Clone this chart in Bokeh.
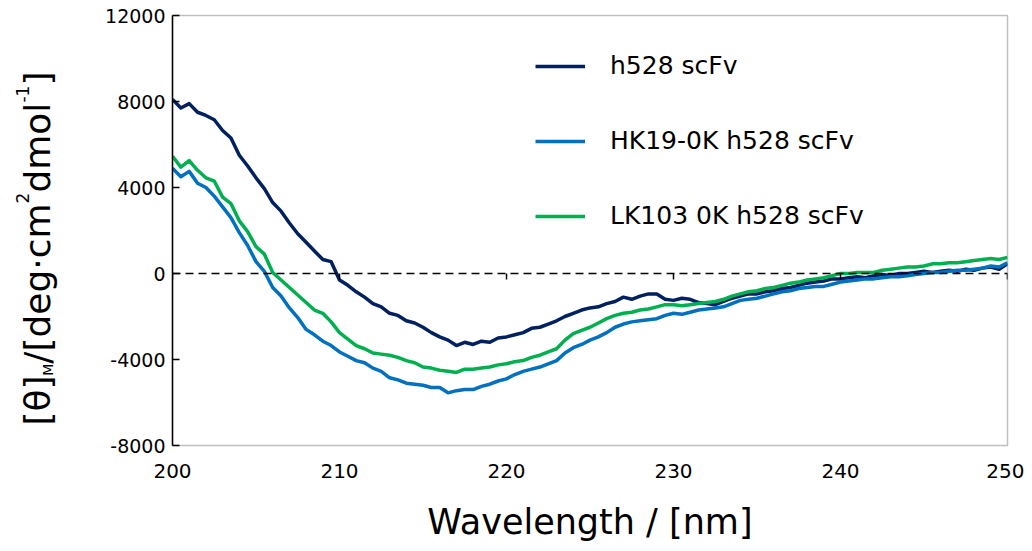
import numpy as np
from bokeh.plotting import figure
from bokeh.layouts import row
from bokeh.models import (Range1d, LinearAxis, FixedTicker, Label, Legend,
                          LegendItem, CustomJSTickFormatter)
from bokeh.embed import file_html
from bokeh.resources import INLINE

# ---------------- data ----------------
wavelength = [200 + 0.5 * i for i in range(101)]

h528 = [8100, 7700, 7900, 7500, 7350, 7150, 6650, 6300, 5500, 5000,
        4450, 3950, 3300, 2900, 2350, 1850, 1450, 1050, 650, 550,
        -300, -550, -850, -1100, -1400, -1550, -1850, -1950, -2200, -2300,
        -2500, -2750, -2950, -3100, -3350, -3200, -3300, -3150, -3200, -3000,
        -2950, -2850, -2750, -2550, -2500, -2350, -2200, -2000, -1850, -1700,
        -1600, -1550, -1400, -1300, -1100, -1200, -1050, -950, -950, -1200,
        -1250, -1150, -1200, -1350, -1400, -1450, -1300, -1150, -1050, -950,
        -950, -850, -800, -700, -650, -550, -450, -400, -350, -250,
        -250, -200, -150, -200, -100, -50, -100, 0, 0, 50,
        100, 50, 100, 150, 100, 200, 150, 250, 300, 200,
        450]

hk19 = [4900, 4500, 4750, 4200, 4000, 3600, 3100, 2600, 1900, 1300,
        550, 100, -650, -1050, -1600, -2050, -2600, -2850, -3150, -3350,
        -3650, -3850, -4050, -4150, -4400, -4550, -4850, -4950, -5100, -5150,
        -5200, -5300, -5300, -5550, -5450, -5400, -5400, -5250, -5150, -5000,
        -4900, -4700, -4550, -4450, -4350, -4200, -4050, -3700, -3450, -3300,
        -3100, -2950, -2750, -2500, -2350, -2250, -2200, -2150, -2100, -1950,
        -1850, -1900, -1800, -1700, -1650, -1600, -1550, -1400, -1250, -1200,
        -1150, -1050, -950, -850, -800, -700, -650, -600, -600, -500,
        -400, -350, -300, -250, -250, -200, -150, -150, -100, -50,
        0, 50, 50, 100, 150, 150, 200, 250, 350, 300,
        500]

lk103 = [5450, 4950, 5250, 4800, 4450, 4300, 3550, 3250, 2450, 1950,
         1250, 900, 50, -300, -650, -1000, -1350, -1700, -1850, -2250,
         -2750, -3050, -3350, -3500, -3700, -3750, -3800, -3900, -4050, -4150,
         -4350, -4400, -4500, -4550, -4600, -4450, -4450, -4400, -4350, -4250,
         -4200, -4100, -4050, -3900, -3800, -3650, -3500, -3100, -2800, -2650,
         -2500, -2300, -2100, -1950, -1850, -1800, -1700, -1650, -1550, -1450,
         -1450, -1500, -1450, -1400, -1350, -1300, -1200, -1050, -950, -850,
         -800, -700, -650, -550, -450, -400, -300, -250, -200, -100,
         0, 0, 50, 50, 50, 150, 200, 250, 300, 300,
         350, 450, 450, 500, 500, 550, 600, 650, 700, 650,
         750]

series_names = ["h528 scFv", "HK19-0K h528 scFv", "LK103 0K h528 scFv"]
series_colors = ["#002060", "#0070C0", "#00B050"]
x_ticks = [200, 210, 220, 230, 240, 250]
y_ticks = [-8000, -4000, 0, 4000, 8000, 12000]
x_title = "Wavelength / [nm]"
# y title pieces: (text, font px, baseline page-x, start page-y)
y_title_parts = [("[θ]", 36, 46, 425.0), ("M", 14, 51, 375.3),
                 ("/[deg·cm", 36, 46, 363.2), ("2", 17, 26, 202.9),
                 ("dmol", 36, 46, 192.1), ("-1", 17, 26, 102.1),
                 ("]", 36, 46, 85.1)]

FONT = "DejaVu Sans"

# ---------------- layout ----------------
W, H = 1024, 545          # whole page area
LW = 64                   # width of the strip holding the y title
FL, FR, FT, FB = 172, 1007, 15, 445  # frame edges on the page

# strip with the rotated y title (its frame is aligned with the main frame)
t = figure(width=LW, height=H, x_range=Range1d(0, LW), y_range=Range1d(H - FB, H - FT),
           output_backend="svg", toolbar_location=None,
           x_axis_type=None, y_axis_type=None,
           min_border=0, min_border_left=0, min_border_right=0,
           min_border_top=FT, min_border_bottom=H - FB)
t.outline_line_color = None
t.xgrid.visible = False
t.ygrid.visible = False
t.background_fill_color = "white"
t.border_fill_color = "white"
for txt, size, bx, sy in y_title_parts:
    t.add_layout(Label(x=bx - 0.24 * size, y=H - sy, text=txt, angle=np.pi / 2,
                       angle_units="rad", text_align="left", text_baseline="alphabetic",
                       text_font=FONT, text_font_size=f"{size}px", text_color="black"))

# main chart
p = figure(width=W - LW, height=H, x_range=Range1d(200, 250), y_range=Range1d(-8000, 12000),
           output_backend="svg", toolbar_location=None,
           min_border_left=FL - LW, min_border_right=W - FR, min_border_top=FT,
           min_border_bottom=H - FB)
p.background_fill_color = "white"
p.border_fill_color = "white"
p.outline_line_color = "#BFBFBF"
p.outline_line_width = 1.5
p.xgrid.visible = False
p.ygrid.visible = False

# bottom axis: labels only
xa = p.xaxis[0]
xa.ticker = FixedTicker(ticks=x_ticks)
xa.formatter = CustomJSTickFormatter(code="return tick.toString()")
xa.axis_line_color = None
xa.major_tick_line_color = None
xa.minor_tick_line_color = None
xa.major_label_text_font = FONT
xa.major_label_text_font_size = "20px"
xa.major_label_text_color = "black"
xa.major_label_standoff = 12
xa.axis_label = x_title
xa.axis_label_text_font = FONT
xa.axis_label_text_font_size = "35px"
xa.axis_label_text_font_style = "normal"
xa.axis_label_text_color = "black"
xa.axis_label_standoff = 21

# left axis
ya = p.yaxis[0]
ya.ticker = FixedTicker(ticks=y_ticks)
ya.formatter = CustomJSTickFormatter(code="return tick.toString()")
ya.axis_line_color = "black"
ya.axis_line_width = 1.5
ya.major_tick_line_color = "black"
ya.major_tick_line_width = 1.5
ya.major_tick_in = 7
ya.major_tick_out = 0
ya.minor_tick_line_color = None
ya.major_label_text_font = FONT
ya.major_label_text_font_size = "19px"
ya.major_label_text_color = "black"
ya.major_label_standoff = 7

# dashed horizontal axis crossing at 0 with downward ticks
zero_axis = LinearAxis(fixed_location=0, ticker=FixedTicker(ticks=x_ticks),
                       formatter=CustomJSTickFormatter(code="return ''"))
zero_axis.axis_line_color = "black"
zero_axis.axis_line_width = 1.5
zero_axis.axis_line_dash = "8 5"
zero_axis.major_tick_line_color = "black"
zero_axis.major_tick_line_width = 1.5
zero_axis.major_tick_in = 0
zero_axis.major_tick_out = 6
zero_axis.minor_tick_line_color = None
p.add_layout(zero_axis, "below")

# series
renderers = []
for ys, name, col in zip([h528, hk19, lk103], series_names, series_colors):
    r = p.line(wavelength, ys, line_color=col, line_width=3.5, line_join="round")
    renderers.append(r)

legend = Legend(items=[LegendItem(label=n, renderers=[r]) for n, r in zip(series_names, renderers)],
                location=(363, 215), orientation="vertical",
                glyph_width=50, glyph_height=20, label_standoff=25, spacing=46,
                padding=0, margin=0, border_line_alpha=0, background_fill_alpha=0,
                label_text_font=FONT, label_text_font_size="25px", label_text_color="black")
p.add_layout(legend)

layout = row(t, p, spacing=0)
open("out.html", "w").write(file_html(layout, INLINE))
